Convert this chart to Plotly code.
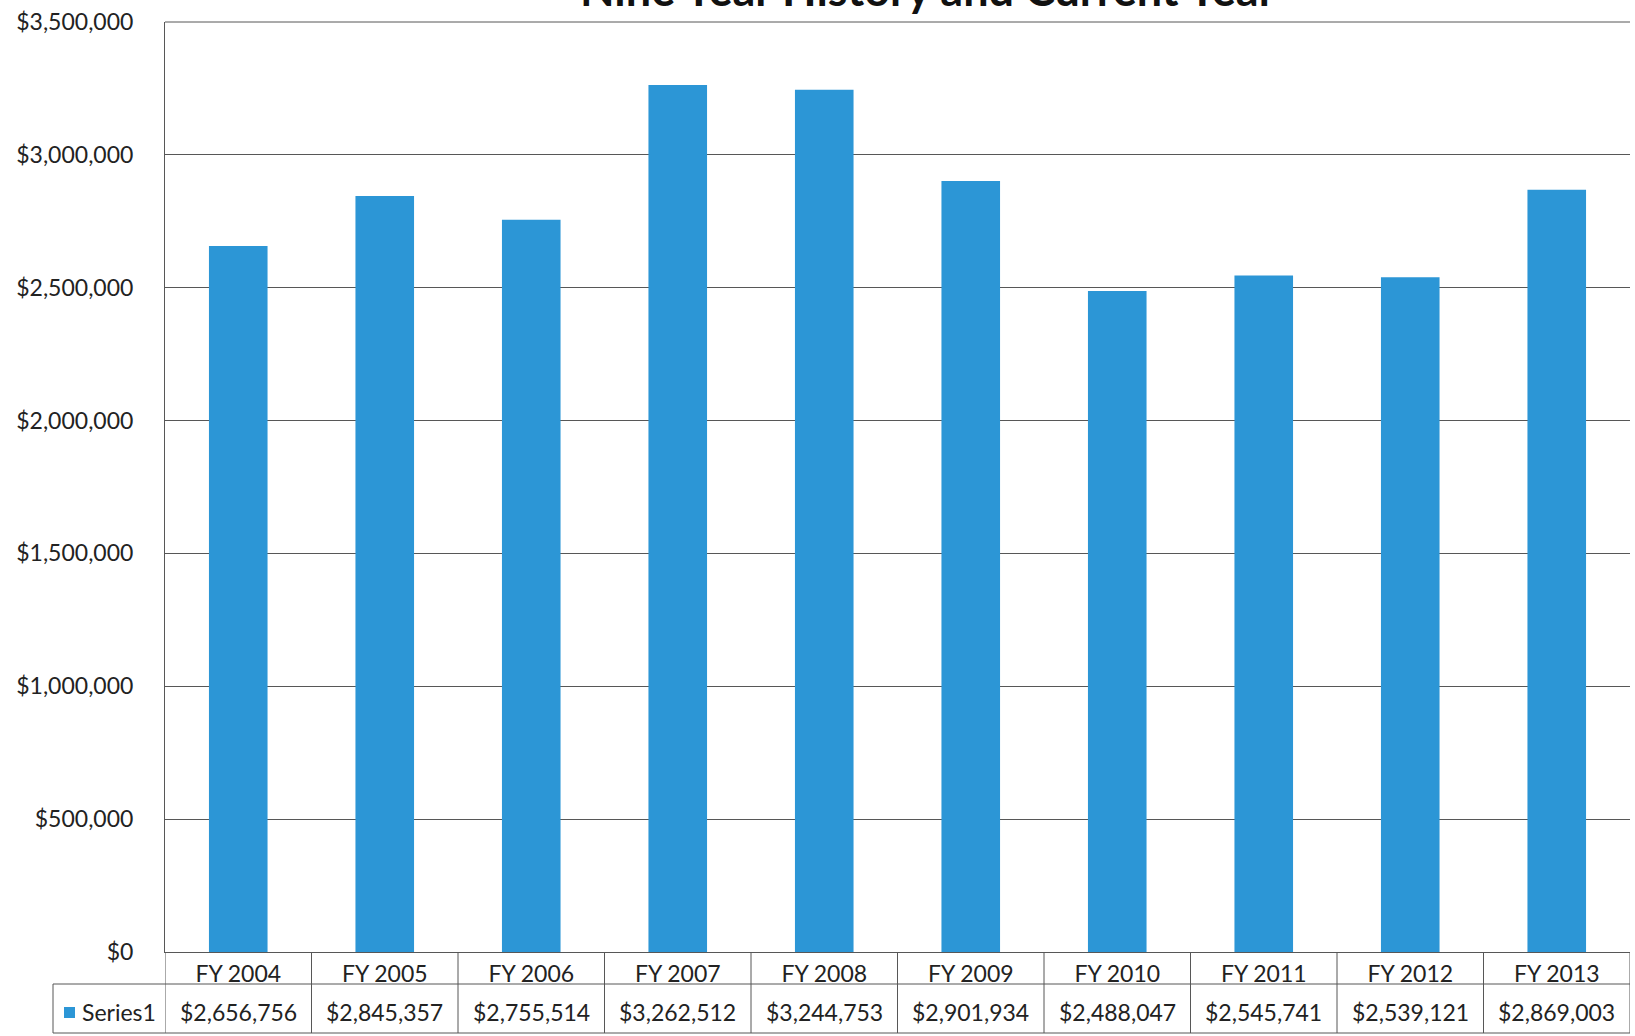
import plotly.graph_objects as go

categories = ["FY 2004", "FY 2005", "FY 2006", "FY 2007", "FY 2008",
              "FY 2009", "FY 2010", "FY 2011", "FY 2012", "FY 2013"]
values = [2656756, 2845357, 2755514, 3262512, 3244753,
          2901934, 2488047, 2545741, 2539121, 2869003]
series_name = "Series1"
title_text = "Nine Year History and Current Year"
y_ticks = [0, 500000, 1000000, 1500000, 2000000, 2500000, 3000000, 3500000]

W, H = 1635, 1036
ML, MR, MT, MB = 165, 5, 22, 84
plot_h = H - MT - MB
plot_w = W - ML - MR

def py(px):  # pixel y -> paper y
    return (H - MB - px) / plot_h

def pxx(px):  # pixel x -> paper x
    return (px - ML) / plot_w

BAR = "#2C96D6"
LINE = "#575757"
FONT = "Lato"
FS = 23

fig = go.Figure(go.Bar(x=categories, y=values, marker=dict(color=BAR, line=dict(width=0)),
                       name=series_name, showlegend=False))

fig.update_layout(
    width=W, height=H,
    margin=dict(l=ML, r=MR, t=MT, b=MB, pad=0),
    paper_bgcolor="white", plot_bgcolor="white",
    bargap=0.6,
    font=dict(family=FONT, size=FS, color="#222"),
)
fig.update_yaxes(range=[0, 3500000], tickvals=y_ticks,
                 ticktext=["$" + f"{v:,}" for v in y_ticks],
                 showgrid=True, gridcolor=LINE, gridwidth=1,
                 zeroline=False, showline=True, linecolor=LINE, linewidth=1,
                 ticks="", ticklabelstandoff=26, tickfont=dict(size=FS, color="#222"))
fig.update_xaxes(showgrid=False, showline=True, linecolor=LINE, linewidth=1,
                 ticks="", tickfont=dict(size=FS, color="#222"), ticklabelstandoff=1,
                 range=[-0.5, len(categories) - 0.5])

shapes = []
# top border
shapes.append(dict(type="line", xref="paper", yref="paper", x0=0, x1=1, y0=1, y1=1,
                   line=dict(color=LINE, width=1)))
# table vertical lines between categories
for i in range(len(categories) + 1):
    shapes.append(dict(type="line", xref="x", yref="paper", x0=i - 0.5, x1=i - 0.5,
                       y0=0, y1=py(1033), line=dict(color=LINE, width=1)))
# table horizontal lines
shapes.append(dict(type="line", xref="paper", yref="paper", x0=pxx(53), x1=1,
                   y0=py(984), y1=py(984), line=dict(color=LINE, width=1)))
shapes.append(dict(type="line", xref="paper", yref="paper", x0=pxx(53), x1=1,
                   y0=py(1033), y1=py(1033), line=dict(color=LINE, width=1)))
# left border of series label cell
shapes.append(dict(type="line", xref="paper", yref="paper", x0=pxx(53), x1=pxx(53),
                   y0=py(984), y1=py(1033), line=dict(color=LINE, width=1)))
# legend key square
shapes.append(dict(type="rect", xref="paper", yref="paper", x0=pxx(64), x1=pxx(75),
                   y0=py(1018), y1=py(1007), fillcolor=BAR, line=dict(width=0)))
fig.update_layout(shapes=shapes)

annotations = []
for c, v in zip(categories, values):
    annotations.append(dict(x=c, xref="x", y=py(1012), yref="paper",
                            text="$" + f"{v:,}", showarrow=False,
                            font=dict(size=FS, color="#222"),
                            xanchor="center", yanchor="middle"))
annotations.append(dict(x=pxx(80), xref="paper", y=py(1012), yref="paper",
                        text=series_name,
                        showarrow=False, font=dict(size=FS, color="#222"),
                        xanchor="left", yanchor="middle"))
annotations.append(dict(x=pxx(928), xref="paper", y=py(18), yref="paper",
                        text=f"<b>{title_text}</b>", showarrow=False,
                        font=dict(size=45, color="#111"),
                        xanchor="center", yanchor="bottom"))
fig.update_layout(annotations=annotations)

fig.write_html("out.html")
